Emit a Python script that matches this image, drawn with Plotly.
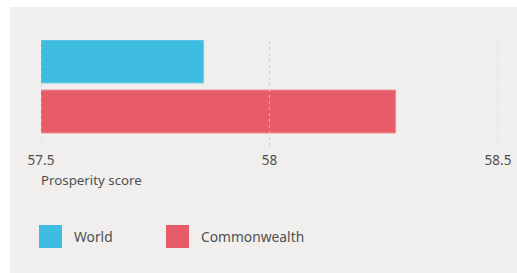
import plotly.graph_objects as go

categories = ["World", "Commonwealth"]
values = [57.856, 58.276]
colors = ["#3fbde0", "#e85b69"]
edge_colors = ["#7dd0ea", "#f0939c"]
tick_vals = [57.5, 58, 58.5]
tick_text = ["57.5", "58", "58.5"]
axis_title = "Prosperity score"

FONT = "Noto Sans"
TXT = "#4f4f4f"

fig = go.Figure()
fig.add_trace(go.Bar(
    y=categories, x=values, orientation="h",
    marker=dict(color=colors, line=dict(width=1, color=edge_colors)),
    width=0.86, showlegend=False, hoverinfo="skip",
))

W, H = 517, 273
L, R, T, B = 41, 19, 40, 127
pw, ph = W - L - R, H - T - B

def px(x):
    return (x - L) / pw

def py(y):
    return (H - B - y) / ph

shapes = [dict(type="rect", xref="paper", yref="paper", layer="below",
               x0=px(10), x1=px(530), y0=py(290), y1=py(7),
               fillcolor="#f0efed", line=dict(width=0))]
for tv in tick_vals:
    shapes.append(dict(type="line", xref="x", yref="paper", layer="above",
                       x0=tv, x1=tv, y0=0, y1=1,
                       line=dict(color="rgba(200,200,208,0.8)", width=1, dash="dot")))

annotations = [dict(text=axis_title, xref="paper", yref="paper",
                    x=px(39), y=py(180), xanchor="left", yanchor="middle",
                    showarrow=False, font=dict(family=FONT, size=13.3, color=TXT))]

swatch_x = [39, 166]
for i, (name, col) in enumerate(zip(categories, colors)):
    x0 = swatch_x[i]
    shapes.append(dict(type="rect", xref="paper", yref="paper",
                       x0=px(x0), x1=px(x0 + 23), y0=py(248), y1=py(225),
                       fillcolor=col, line=dict(width=0)))
    annotations.append(dict(text=name, xref="paper", yref="paper",
                            x=px(x0 + 33), y=py(236.5), xanchor="left", yanchor="middle",
                            showarrow=False, font=dict(family=FONT, size=13.8, color=TXT)))

fig.update_layout(
    width=W, height=H,
    margin=dict(l=L, r=R, t=T, b=B, autoexpand=False),
    paper_bgcolor="white", plot_bgcolor="rgba(0,0,0,0)",
    font=dict(family=FONT, size=13.5, color=TXT),
    shapes=shapes, annotations=annotations,
    xaxis=dict(range=[57.5, 58.5], tickvals=tick_vals, ticktext=tick_text,
               showgrid=False, zeroline=False, showline=False, ticks="",
               fixedrange=True, ticklabelstandoff=4, automargin=False),
    yaxis=dict(type="category", range=[1.69, -0.43], showticklabels=False,
               showgrid=False, zeroline=False, showline=False, ticks="",
               automargin=False, fixedrange=True),
    bargap=0,
)

fig.write_html("out.html", config={"displayModeBar": False, "staticPlot": True},
               post_script="document.body.style.margin='0';document.body.style.overflow='hidden';")
